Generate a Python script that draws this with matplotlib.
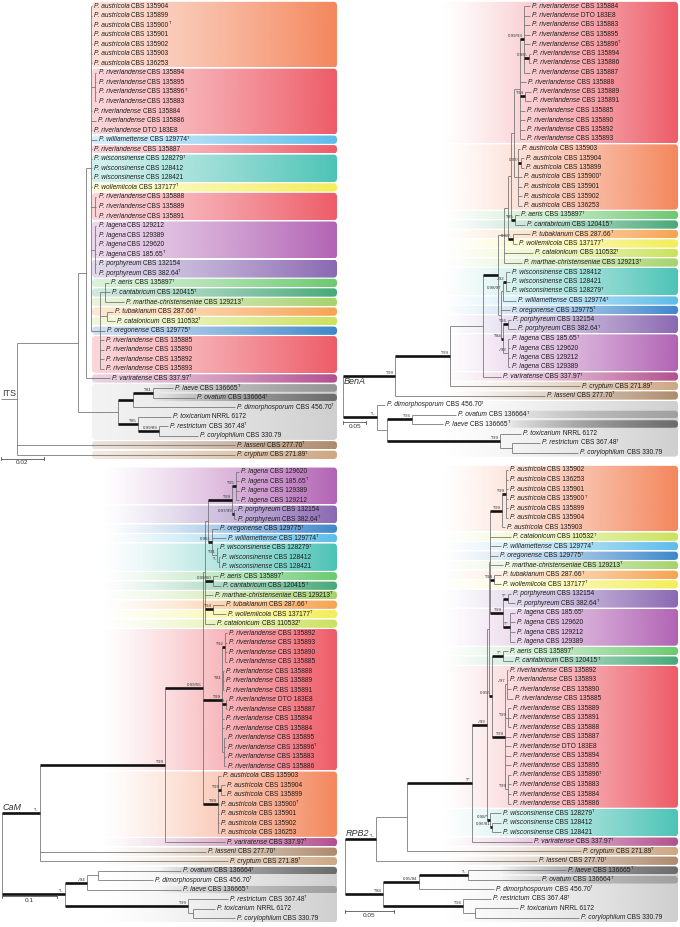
import re
import numpy as np
import matplotlib
matplotlib.use("Agg")
import matplotlib.pyplot as plt
from matplotlib.patches import FancyBboxPatch
from matplotlib.collections import LineCollection
from matplotlib.colors import to_rgb

plt.rcParams['font.family'] = ['Liberation Sans', 'DejaVu Sans']

# ---------------- DATA: trees (Newick, branch lengths in substitutions/site) ----------------
# leaf = "<epithet> <collection number>[^ = ex-type]", internal label = "<support>[! = thick branch]"
ITS_TREE = (
    "((((("
    "austricola CBS 135904:0.0004,austricola CBS 135899:0.0004,austricola CBS 135900^:0.0004,"
    "austricola CBS 135901:0.0004,austricola CBS 135902:0.0004,austricola CBS 135903:0.0004,"
    "austricola CBS 136253:0.0004,"
    "(riverlandense CBS 135894:0.0005,riverlandense CBS 135895:0.0005,riverlandense CBS 135896^:0.0005,"
    "riverlandense CBS 135883:0.0005):0.0021,"
    "riverlandense CBS 135884:0.0004,riverlandense CBS 135886:0.0023,riverlandense DTO 183E8:0.0004,"
    "williamettense CBS 129774^:0.0028,riverlandense CBS 135887:0.0004,"
    "wisconsinense CBS 128279^:0.0004,wisconsinense CBS 128412:0.0004,wisconsinense CBS 128421:0.0004,"
    "wollemiicola CBS 137177^:0.0004,"
    "(riverlandense CBS 135888:0.0005,riverlandense CBS 135889:0.0005,riverlandense CBS 135891:0.0005):0.0021,"
    "(lagena CBS 129212:0.0005,lagena CBS 129389:0.0005,lagena CBS 129620:0.0005,lagena CBS 185.65^:0.0005,"
    "porphyreum CBS 132154:0.0005,porphyreum CBS 382.64^:0.0005):0.0021,"
    "((aeris CBS 135897^:0.0019,cantabricum CBS 120415^:0.0023,marthae-christenseniae CBS 129213^:0.0088):0.0023,"
    "(tubakianum CBS 287.66^:0.0028,catalonicum CBS 110532^:0.0037):0.0033,"
    "oregonense CBS 129775^:0.0023,riverlandense CBS 135885:0.0019,riverlandense CBS 135890:0.0019,"
    "riverlandense CBS 135892:0.0019,riverlandense CBS 135893:0.0019):0.0042"
    "):0.0023,variratense CBS 337.97^:0.0112):0.0037,"
    "(((laeve CBS 136665^:0.0093,ovatum CBS 136664^:0.0195)*/81!:0.0093,dimorphosporum CBS 456.70^:0.0474)!:0.0070,"
    "(toxicarium NRRL 6172:0.0153,(restrictum CBS 367.48^:0.0042,corylophilum CBS 330.79:0.0181)0.99/89!:0.0098)*/85!:0.0093"
    "):0.0186"
    "):0.0284,lasseni CBS 277.70^:0.1014,cryptum CBS 271.89^:0.1014):0.0074);"
)

BENA_TREE = (
    "((((((((((("
    "riverlandense CBS 135884:0.0129,riverlandense DTO 183E8:0.0129,riverlandense CBS 135883:0.0129,"
    "riverlandense CBS 135895:0.0129,riverlandense CBS 135896^:0.0129,"
    "(riverlandense CBS 135894:0.0043,riverlandense CBS 135886:0.0043)0.99/-!:0.0107,"
    "riverlandense CBS 135887:0.0129)0.99/93!:0.0086,"
    "riverlandense CBS 135888:0.0129,"
    "(riverlandense CBS 135889:0.0129,riverlandense CBS 135891:0.0129)*/94!:0.0107,"
    "riverlandense CBS 135885:0.0107,riverlandense CBS 135890:0.0107,"
    "riverlandense CBS 135892:0.0107,riverlandense CBS 135893:0.0107):0.0129,"
    "(austricola CBS 135903:0.0043,(austricola CBS 135904:0.0064,austricola CBS 135899:0.0064)0.97/-!:0.0064,"
    "austricola CBS 135900^:0.0086,austricola CBS 135901:0.0086,austricola CBS 135902:0.0086,"
    "austricola CBS 136253:0.0086):0.0086"
    "):0.0064,"
    "(aeris CBS 135897^:0.0086,cantabricum CBS 120415^:0.0215)*/85!:0.0086"
    "):0.0064,"
    "(tubakianum CBS 287.66^:0.0365,wollemiicola CBS 137177^:0.0086)0.98/-!:0.0107"
    "):0.0086,"
    "catalonicum CBS 110532^:0.0622,marthae-christenseniae CBS 129213^:0.0386"
    "):0.0129,"
    "(((wisconsinense CBS 128412:0.0086,wisconsinense CBS 128421:0.0086,wisconsinense CBS 128279^:0.0086)-/92!:0.0064,"
    "williamettense CBS 129774^:0.0279)0.98/97:0.0043,oregonense CBS 129775^:0.0193,"
    "((porphyreum CBS 132154:0.0064,porphyreum CBS 382.64^:0.0172)*/96!:0.0107,"
    "(lagena CBS 185.65^:0.0043,lagena CBS 129620:0.0043,lagena CBS 129212:0.0043,lagena CBS 129389:0.0043)-/93:0.0107"
    ")*/84!:0.0043"
    "):0.0064"
    ")!:0.0322,"
    "variratense CBS 337.97^:0.0386):0.0708,"
    "cryptum CBS 271.89^:0.2790)*/99!:0.1180,"
    "lasseni CBS 277.70^:0.3219)*/99!:0.1116,"
    "(dimorphosporum CBS 456.70^:0.0172,((ovatum CBS 136664^:0.0944,laeve CBS 136665^:0.0665)*/96!:0.0537,"
    "(toxicarium NRRL 6172:0.0451,(restrictum CBS 367.48^:0.0601,corylophilum CBS 330.79:0.1416):0.0258)*/99!:0.2425"
    "):0.0215)*/-!:0.0730"
    ");"
)

CAM_TREE = (
    "(((((((("
    "lagena CBS 129620:0.0055,lagena CBS 185.65^:0.0055,lagena CBS 129389:0.0055,lagena CBS 129212:0.0055)*/95!:0.0073,"
    "(porphyreum CBS 132154:0.0036,porphyreum CBS 382.64^:0.0036)0.97/99!:0.0036"
    ")*/99!:0.0436,"
    "(oregonense CBS 129775^:0.0109,williamettense CBS 129774^:0.0255,"
    "(wisconsinense CBS 128279^:0.0018,(wisconsinense CBS 128412:0.0018,wisconsinense CBS 128421:0.0018)*/-:0.0036)*/91:0.0091"
    ")0.96/-!:0.0073"
    "):0.0055,"
    "(aeris CBS 135897^:0.0091,cantabricum CBS 120415^:0.0145)0.99/60!:0.0145,"
    "marthae-christenseniae CBS 129213^:0.0145,"
    "(tubakianum CBS 287.66^:0.0200,wollemiicola CBS 137177^:0.0236)*/94!:0.0145,"
    "catalonicum CBS 110532^:0.0182"
    "):0.0036,"
    "((riverlandense CBS 135892:0.0036,riverlandense CBS 135893:0.0036,riverlandense CBS 135890:0.0036,"
    "riverlandense CBS 135885:0.0036)*/92!:0.0055,"
    "(riverlandense CBS 135888:0.0018,riverlandense CBS 135889:0.0018,riverlandense CBS 135891:0.0018)*/81:0.0018,"
    "(riverlandense DTO 183E8:0.0018,riverlandense CBS 135887:0.0018)*/90!:0.0073,"
    "riverlandense CBS 135894:0.0036,riverlandense CBS 135884:0.0036,"
    "(riverlandense CBS 135895:0.0036,riverlandense CBS 135896^:0.0036,riverlandense CBS 135883:0.0036,"
    "riverlandense CBS 135886:0.0036):0.0036"
    ")*/99!:0.0345,"
    "(austricola CBS 135903:0.0055,(austricola CBS 135904:0.0073,austricola CBS 135899:0.0073)*/99!:0.0055,"
    "austricola CBS 135900^:0.0018,austricola CBS 135901:0.0018,austricola CBS 135902:0.0018,austricola CBS 136253:0.0018"
    ")*/99!:0.0273"
    ")0.99/55!:0.0691,"
    "variratense CBS 337.97^:0.1091"
    ")*/99!:0.2273,"
    "lasseni CBS 277.70^:0.3018,cryptum CBS 271.89^:0.3418"
    ")*/-!:0.0691,"
    "(((ovatum CBS 136664^:0.1509,dimorphosporum CBS 456.70^:0.1000):0.0200,laeve CBS 136665^:0.1709)-/94!:0.0400,"
    "(restrictum CBS 367.48^:0.0727,(toxicarium NRRL 6172:0.0400,corylophilum CBS 330.79:0.0764):0.0091)*/99!:0.2236"
    ")*/-!:0.1145"
    ");"
)

RPB2_TREE = (
    "((((((((("
    "austricola CBS 135902:0.0020,austricola CBS 136253:0.0020,austricola CBS 135901:0.0020,"
    "austricola CBS 135900^:0.0020,austricola CBS 135899:0.0020,austricola CBS 135904:0.0020)*/99!:0.0041,"
    "austricola CBS 135903:0.0031)*/99!:0.0122,"
    "catalonicum CBS 110532^:0.0214,williamettense CBS 129774^:0.0112,oregonense CBS 129775^:0.0082,"
    "marthae-christenseniae CBS 129213^:0.0133,"
    "(tubakianum CBS 287.66^:0.0071,wollemiicola CBS 137177^:0.0071)*/94!:0.0041,"
    "((porphyreum CBS 132154:0.0031,porphyreum CBS 382.64^:0.0071)*/*!:0.0051,"
    "(lagena CBS 185.65^:0.0051,lagena CBS 129620:0.0051,lagena CBS 129212:0.0051,lagena CBS 129389:0.0051)*/*!:0.0071"
    ")*/99!:0.0133"
    "):0.0010,"
    "((aeris CBS 135897^:0.0051,cantabricum CBS 120415^:0.0102)*/*!:0.0112,"
    "((riverlandense CBS 135892:0.0010,riverlandense CBS 135893:0.0010,riverlandense CBS 135890:0.0041,"
    "riverlandense CBS 135885:0.0061)-/97:0.0020,"
    "(riverlandense CBS 135889:0.0031,riverlandense CBS 135891:0.0031,riverlandense CBS 135888:0.0031)*/99:0.0031,"
    "riverlandense CBS 135887:0.0061,riverlandense DTO 183E8:0.0061,riverlandense CBS 135894:0.0061,"
    "riverlandense CBS 135895:0.0061,"
    "(riverlandense CBS 135896^:0.0031,riverlandense CBS 135883:0.0031,riverlandense CBS 135884:0.0031,"
    "riverlandense CBS 135886:0.0031)*/99:0.0031"
    ")*/99!:0.0133"
    ")0.99/-!:0.0031"
    "):0.0020,"
    "(wisconsinense CBS 128279^:0.0112,(wisconsinense CBS 128412:0.0092,wisconsinense CBS 128421:0.0092)0.96/81!:0.0020)0.98/*!:0.0031"
    ")-/99!:0.0153,"
    "variratense CBS 337.97^:0.0612"
    ")*/*!:0.0663,"
    "cryptum CBS 271.89^:0.1776"
    "):0.0316,"
    "lasseni CBS 277.70^:0.1643"
    ")*/-!:0.0316,"
    "(((laeve CBS 136665^:0.1000,ovatum CBS 136664^:0.0735)*/-!:0.0500,dimorphosporum CBS 456.70^:0.0765)0.95/84!:0.0367,"
    "(restrictum CBS 367.48^:0.0286,(toxicarium NRRL 6172:0.0439,corylophilum CBS 330.79:0.1061):0.0122)*/96!:0.0816"
    ")*/88!:0.0388"
    ");"
)

GENE_NAMES = ["ITS", "BenA", "CaM", "RPB2"]
SCALE_BAR_LENGTHS = [0.02, 0.05, 0.1, 0.05]
OUTGROUP_SPECIES = ["laeve", "ovatum", "dimorphosporum", "toxicarium", "restrictum", "corylophilum"]

# ---------------- STYLE ----------------
SPECIES_COLORS = {
    "austricola": "#f4865c", "riverlandense": "#ee5b67", "williamettense": "#5cbce9",
    "wisconsinense": "#4cc3b6", "wollemiicola": "#f3ee58", "lagena": "#b263b4",
    "porphyreum": "#8a68b2", "aeris": "#6cc970", "cantabricum": "#47a878",
    "marthae-christenseniae": "#a5d36c", "tubakianum": "#f7a351", "catalonicum": "#cbe25e",
    "oregonense": "#3e86cb", "variratense": "#b24f8e", "lasseni": "#ae8a6c", "cryptum": "#cda782",
}
OUTGROUP_BG = "#cfcfcf"
DARK_GREYS = {
    "ITS": {"laeve": "#959595", "ovatum": "#6b6b6b"},
    "BenA": {"ovatum": "#a0a0a0", "laeve": "#6b6b6b"},
    "CaM": {"ovatum": "#6b6b6b", "laeve": "#a0a0a0"},
    "RPB2": {"laeve": "#6b6b6b", "ovatum": "#a0a0a0"},
}
# panel layout in pixels: box, root x, px per unit, first row y, row step, band x-range, band start alpha,
# scale-bar row, gene-label vertical alignment
PANEL_LAYOUT = {
    "ITS": dict(box=(0, 0, 340, 466), root_px=1, ppu=2150, y0=6, dy=9.55, band=(92, 337), a0=0.25,
                bar_row=47.4, label_va="bottom", italic=False),
    "BenA": dict(box=(340, 0, 340, 466), root_px=343, ppu=466, y0=6, dy=9.5, band=(440, 678), a0=0.0,
                 bar_row=43.8, label_va="top", italic=True),
    "CaM": dict(box=(0, 462, 340, 465), root_px=2, ppu=550, y0=471.7, dy=9.5, band=(100, 337), a0=0.0,
                bar_row=44.7, label_va="bottom", italic=True),
    "RPB2": dict(box=(340, 462, 340, 465), root_px=345, ppu=980, y0=470, dy=9.53, band=(440, 678), a0=0.0,
                 bar_row=46.3, label_va="bottom", italic=True),
}
FS = 4.8
TXT = "#1e1e1e"
THIN = "#6f6f6f"
W, H = 680, 927


def parse_newick(text):
    s = re.sub(r"\s*([(),:;])\s*", r"\1", text.strip()).rstrip(";")
    pos = 0

    def node():
        nonlocal pos
        n = {"children": [], "name": "", "length": 0.0}
        if s[pos] == "(":
            pos += 1
            while True:
                n["children"].append(node())
                if s[pos] == ",":
                    pos += 1
                else:
                    pos += 1
                    break
        st = pos
        while pos < len(s) and s[pos] not in ",():":
            pos += 1
        n["name"] = s[st:pos].strip()
        if pos < len(s) and s[pos] == ":":
            pos += 1
            st = pos
            while pos < len(s) and s[pos] not in ",()":
                pos += 1
            n["length"] = float(s[st:pos])
        return n

    return node()


def layout(root):
    leaves = []

    def rec(n, x):
        n["x"] = x
        if n["children"]:
            for c in n["children"]:
                rec(c, x + c["length"])
            n["y"] = (n["children"][0]["y"] + n["children"][-1]["y"]) / 2
        else:
            n["y"] = len(leaves)
            parts = n["name"].split(" ", 1)
            n["epithet"] = parts[0]
            rest = parts[1]
            n["type"] = rest.endswith("^")
            n["rest"] = rest.rstrip("^")
            leaves.append(n)

    rec(root, 0.0)
    return leaves


def draw_band(ax, r0, r1, color, xl, xr, a0, inset_px, dy, ppu, radius_px=3.6, gamma=1.25):
    g = inset_px / dy
    yb, yt = r0 - 0.5 + g, r1 + 0.5 - g
    patch = FancyBboxPatch((xl, yb), xr - xl, yt - yb,
                           boxstyle=f"round,pad=0,rounding_size={radius_px / ppu}",
                           mutation_aspect=ppu / dy, facecolor="none", edgecolor="none",
                           transform=ax.transData)
    ax.add_patch(patch)
    grad = np.zeros((1, 256, 4))
    grad[..., :3] = to_rgb(color)
    t = np.linspace(0, 1, 256) ** gamma
    grad[..., 3] = a0 + (1 - a0) * t
    im = ax.imshow(grad, extent=(xl, xr, yt, yb), aspect="auto", interpolation="bilinear", zorder=0)
    im.set_clip_path(patch)


fig = plt.figure(figsize=(W / 100, H / 100), dpi=100)

trees = [ITS_TREE, BENA_TREE, CAM_TREE, RPB2_TREE]
for gene, tree_text, bar_len in zip(GENE_NAMES, trees, SCALE_BAR_LENGTHS):
    L = PANEL_LAYOUT[gene]
    l, t, w, h = L["box"]
    ppu, dy, y0, rpx = L["ppu"], L["dy"], L["y0"], L["root_px"]
    ax = fig.add_axes([l / W, 1 - (t + h) / H, w / W, h / H])
    ax.axis("off")
    root = parse_newick(tree_text)
    leaves = layout(root)
    n = len(leaves)

    # ---- coloured bands ----
    xl, xr = (L["band"][0] - rpx) / ppu, (L["band"][1] - rpx) / ppu
    overlays = []
    i = 0
    while i < n:
        sp = leaves[i]["epithet"]
        j = i
        if sp in OUTGROUP_SPECIES:
            while j + 1 < n and leaves[j + 1]["epithet"] in OUTGROUP_SPECIES:
                j += 1
            draw_band(ax, i, j, OUTGROUP_BG, xl, xr, L["a0"], 0.6, dy, ppu)
            for k in range(i, j + 1):
                if leaves[k]["epithet"] in DARK_GREYS[gene]:
                    overlays.append((k, DARK_GREYS[gene][leaves[k]["epithet"]]))
        else:
            while j + 1 < n and leaves[j + 1]["epithet"] == sp:
                j += 1
            draw_band(ax, i, j, SPECIES_COLORS[sp], xl, xr, L["a0"], 0.6, dy, ppu)
        i = j + 1
    for k, col in overlays:
        draw_band(ax, k, k, col, xl + 0.25 * (xr - xl), xr, 0.0, 1.0, dy, ppu, gamma=0.8)

    # ---- tree lines ----
    thin_segs, thick_segs = [], []

    def rec(nd, parent):
        thick = nd["children"] and nd["name"].endswith("!")
        if parent is not None:
            seg = [(parent["x"], nd["y"]), (nd["x"], nd["y"])]
            (thick_segs if thick else thin_segs).append(seg)
        if nd["children"]:
            thin_segs.append([(nd["x"], nd["children"][0]["y"]), (nd["x"], nd["children"][-1]["y"])])
            lab = nd["name"].rstrip("!")
            if lab and parent is not None:
                ax.annotate(lab, xy=(nd["x"], nd["y"]), xytext=(-0.8, 0.7), textcoords="offset points",
                            ha="right", va="bottom", fontsize=3.2, color="#333333", zorder=5)
            for c in nd["children"]:
                rec(c, nd)

    rec(root, None)
    ax.add_collection(LineCollection(thin_segs, colors=THIN, linewidths=0.55, zorder=2, capstyle="butt"))
    ax.add_collection(LineCollection(thick_segs, colors="#111111", linewidths=1.9, zorder=3, capstyle="butt"))

    # ---- leaf labels ----
    for lf in leaves:
        t1 = ax.annotate("P. " + lf["epithet"], xy=(lf["x"], lf["y"]), xytext=(1.5, 0),
                         textcoords="offset points", ha="left", va="center", fontsize=FS,
                         fontstyle="italic", color=TXT, zorder=6, annotation_clip=False)
        t2 = ax.annotate(" " + lf["rest"], xy=(1, 0), xycoords=t1, ha="left", va="bottom",
                         fontsize=FS, color=TXT, zorder=6, annotation_clip=False)
        if lf["type"]:
            ax.annotate("T", xy=(1, 0.5), xycoords=t2, ha="left", va="bottom",
                        fontsize=FS * 0.6, color=TXT, zorder=6, annotation_clip=False)

    # ---- gene label ----
    first = root["children"][0]
    off = 0.8 if L["label_va"] == "bottom" else -0.8
    ax.annotate(gene, xy=(0, first["y"]), xytext=(0.6, off), textcoords="offset points",
                ha="left", va=L["label_va"], fontsize=6.5, color="#333333",
                fontstyle="italic" if L["italic"] else "normal", zorder=6)

    # ---- scale bar ----
    br = L["bar_row"]
    ax.plot([0, bar_len], [br, br], color="#555555", lw=0.6, zorder=3)
    for xx in (0, bar_len):
        ax.plot([xx, xx], [br - 0.15, br + 0.15], color="#555555", lw=0.6, zorder=3)
    ax.annotate(f"{bar_len:g}", xy=(bar_len / 2, br), xytext=(0, -1.2), textcoords="offset points",
                ha="center", va="top", fontsize=4.6, color="#333333")

    ax.set_xlim((l - rpx) / ppu, (l + w - rpx) / ppu)
    ax.set_ylim((t + h - y0) / dy, (t - y0) / dy)

fig.savefig("out.png", dpi=100)
